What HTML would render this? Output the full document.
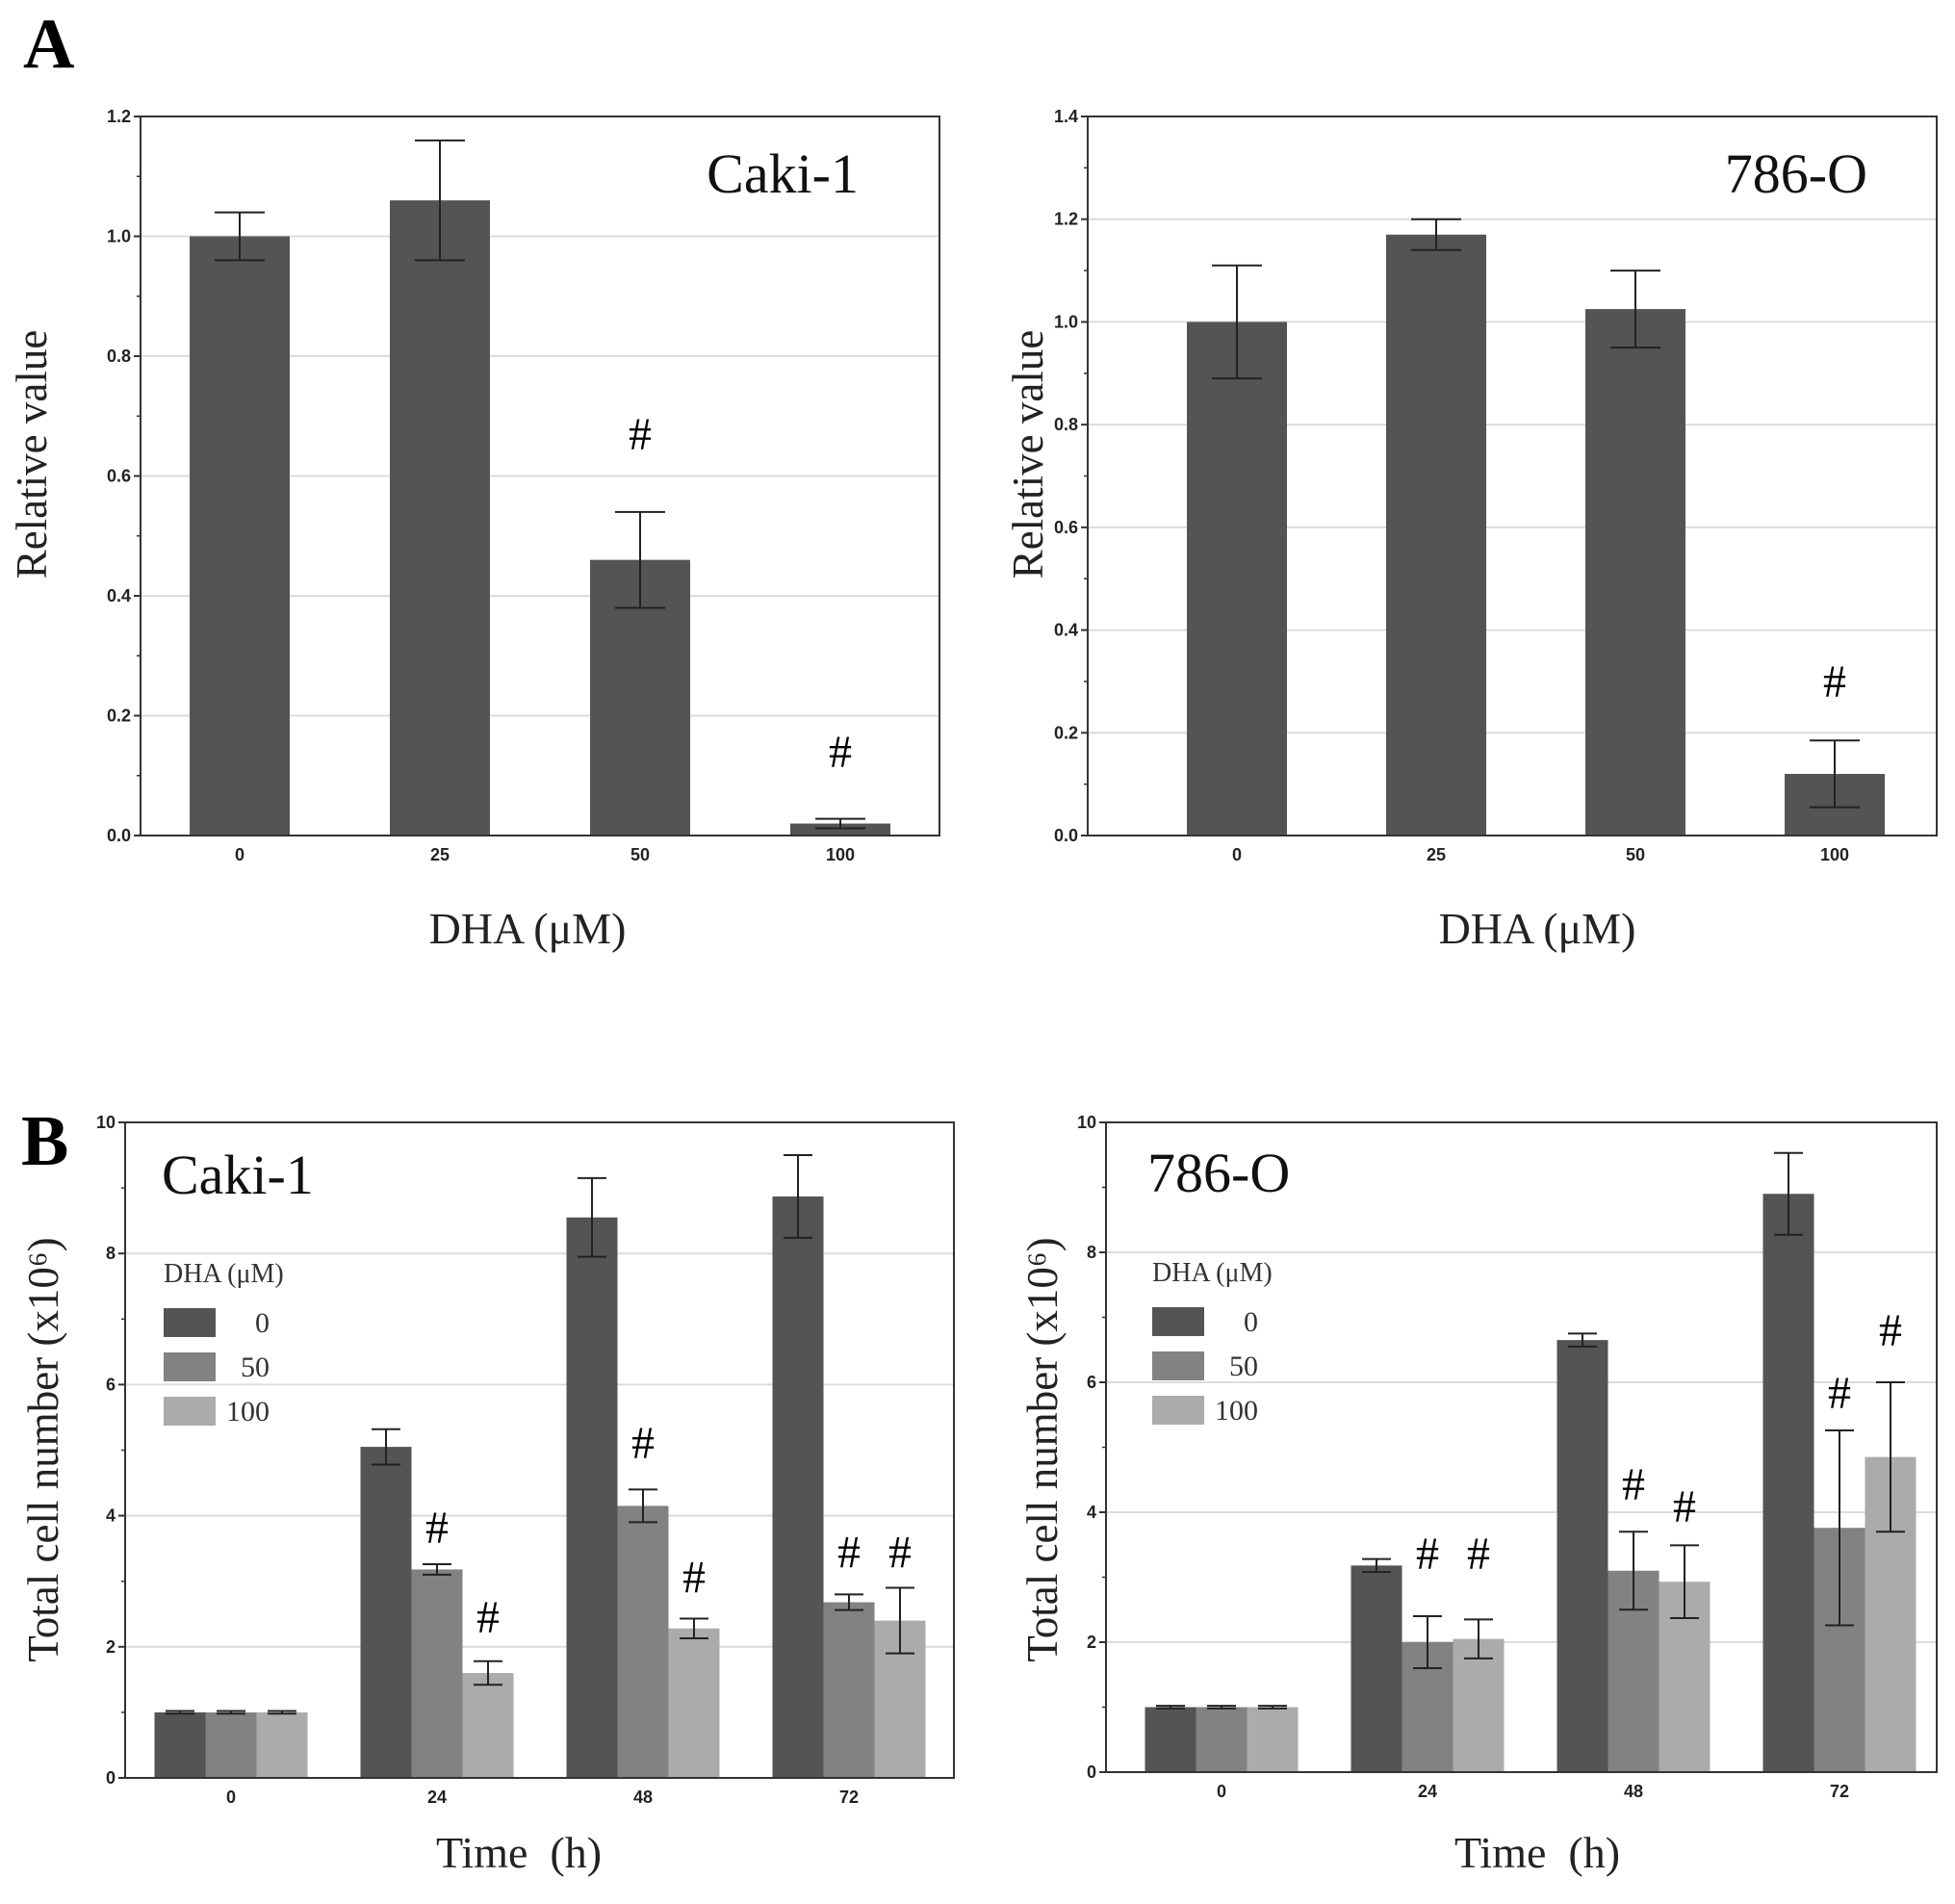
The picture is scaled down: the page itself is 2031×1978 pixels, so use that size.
<!DOCTYPE html>
<html><head><meta charset="utf-8"><style>
html,body{margin:0;padding:0;background:#fff}
svg{display:block}
text{font-family:"Liberation Serif",serif}
.tick{font-family:"Liberation Sans",sans-serif;font-weight:bold;font-size:18px;fill:#222}
</style></head><body>
<svg id="fig" width="2031" height="1978" viewBox="0 0 2031 1978" xmlns="http://www.w3.org/2000/svg">
<text x="24" y="70" font-size="74" font-weight="bold">A</text>
<text x="22" y="1210" font-size="74" font-weight="bold">B</text>
</svg>
<script>
// Panel A data
const aCategories = ["0","25","50","100"];
const aCakiValues = [1.0, 1.06, 0.46, 0.02];
const aCakiErrors = [0.04, 0.1, 0.08, 0.008];
const aCakiHash = [null, null, 0.67, 0.14];
const aCakiTicks = ["0.0","0.2","0.4","0.6","0.8","1.0","1.2"];
const a786Values = [1.0, 1.17, 1.025, 0.12];
const a786Errors = [0.11, 0.03, 0.075, 0.065];
const a786Hash = [null, null, null, 0.3];
const a786Ticks = ["0.0","0.2","0.4","0.6","0.8","1.0","1.2","1.4"];
// Panel B data
const bCategories = ["0","24","48","72"];
const bSeries = ["0","50","100"];
const bTicks = ["0","2","4","6","8","10"];
const bCaki0 = [1, 5.05, 8.55, 8.87];
const bCaki50 = [1, 3.18, 4.15, 2.68];
const bCaki100 = [1, 1.6, 2.28, 2.4];
const bCakiErr0 = [0.02, 0.27, 0.6, 0.63];
const bCakiErr50 = [0.02, 0.08, 0.25, 0.12];
const bCakiErr100 = [0.02, 0.18, 0.15, 0.5];
const bCakiHash50 = [null, 3.82, 5.11, 3.44];
const bCakiHash100 = [null, 2.45, 3.06, 3.44];
const b7860 = [1, 3.18, 6.65, 8.9];
const b78650 = [1, 2.0, 3.1, 3.76];
const b786100 = [1, 2.05, 2.93, 4.85];
const b786Err0 = [0.02, 0.1, 0.1, 0.63];
const b786Err50 = [0.02, 0.4, 0.6, 1.5];
const b786Err100 = [0.02, 0.3, 0.56, 1.15];
const b786Hash50 = [null, 3.36, 4.43, 5.84];
const b786Hash100 = [null, 3.36, 4.09, 6.8];

const svg = document.getElementById('fig');
const NS = "http://www.w3.org/2000/svg";
function mk(tag, attrs, parent, txt){
  const e = document.createElementNS(NS, tag);
  for (const k in attrs) e.setAttribute(k, attrs[k]);
  if (txt !== undefined) e.textContent = txt;
  (parent||svg).appendChild(e);
  return e;
}
const colors = ["#545454","#828282","#ababab"];

function chart(o){
  const g = mk('g', {});
  
  
  const y = v => o.y1 - (v / o.ymax) * (o.y1 - o.y0);
  const cx = i => o.x0 + o.off + o.step * i;
  o.ticks.forEach((t, i) => {
    const v = parseFloat(t);
    const yy = y(v);
    if (v > 0 && v < o.ymax) {
      const gl = mk('line', {x1:o.x0, x2:o.x1, y1:yy, y2:yy, stroke:"#dcdcdc", "stroke-width":2}, g);
      
      
    }
    mk('line', {x1:o.x0-7, x2:o.x0, y1:yy, y2:yy, stroke:"#333", "stroke-width":2}, g);
    const tl = mk('text', {x:o.x0-10, y:yy+6, "text-anchor":"end", class:"tick"}, g, t);
    
    
    if (i < o.ticks.length - 1) {
      const ym = y((v + parseFloat(o.ticks[i+1])) / 2);
      mk('line', {x1:o.x0-4, x2:o.x0, y1:ym, y2:ym, stroke:"#333", "stroke-width":1.5}, g);
    }
  });
  const ns = o.series.length;
  const bw = o.bw;
  o.cats.forEach((c, i) => {
    for (let s = 0; s < ns; s++) {
      const v = o.series[s][i];
      const bx = cx(i) + (s - (ns - 1) / 2) * bw - bw / 2;
      const r = mk('rect', {x:bx, y:y(v), width:bw, height:o.y1 - y(v), fill:colors[ns === 1 ? 0 : s]}, g);
      
      
      const e = o.errors[s][i];
      const mx = bx + bw / 2, hw = ns === 1 ? 26 : 15;
      const eb = mk('path', {d:`M${mx-hw},${y(v+e)}H${mx+hw}M${mx},${y(v+e)}V${y(v-e)}M${mx-hw},${y(v-e)}H${mx+hw}`, stroke:"#222", "stroke-width":2, fill:"none"}, g);
      
      
      const h = o.hash[s][i];
      if (h !== null) {
        const ht = mk('text', {x:mx, y:y(h)+16, "text-anchor":"middle", "font-size":48}, g, "#");
        
        
      }
    }
    const xl = mk('text', {x:cx(i), y:o.y1+26, "text-anchor":"middle", class:"tick"}, g, c);
    
    
  });
  const box = mk('rect', {x:o.x0, y:o.y0, width:o.x1-o.x0, height:o.y1-o.y0, fill:"none", stroke:"#333", "stroke-width":2}, g);
  
  
  const xt = mk('text', {x:o.xtx, y:o.xty, "text-anchor":"middle", "font-size":46, fill:"#222"}, g, o.xtitle);
  
  
  const yt = mk('text', {x:0, y:0, "text-anchor":"middle", "font-size":45, fill:"#222", transform:`translate(${o.ytx},${o.ytc}) rotate(-90)`}, g, o.ytitle);
  
  
  const lb = mk('text', {x:o.lx, y:o.ly, "text-anchor":o.la, "font-size":58, fill:"#111"}, g, o.label);
  
  
  if (o.legend) {
    const lg = mk('g', {}, g);
    
    
    mk('text', {x:o.legend.x, y:o.legend.y, "font-size":28, fill:"#333"}, lg, "DHA (μM)");
    bSeries.forEach((s, k) => {
      const sy = o.legend.y + 27 + k * 46;
      const sw = mk('rect', {x:o.legend.x, y:sy, width:54, height:30, fill:colors[k]}, lg);
      
      
      const lt = mk('text', {x:o.legend.x + 110, y:sy + 25, "text-anchor":"end", "font-size":30, fill:"#333"}, lg, s);
      
      
    });
  }
}

chart({name:"chart-a-caki1", x0:146, x1:976, y0:121, y1:868, ymax:1.2, ticks:aCakiTicks, cats:aCategories,
  off:103, step:208,
  series:[aCakiValues], errors:[aCakiErrors], hash:[aCakiHash], bw:104,
  xtitle:"DHA (μM)", xtx:548, xty:980, ytitle:"Relative value", ytx:48, ytc:472, label:"Caki-1", lx:892, ly:200, la:"end"});
chart({name:"chart-a-786o", x0:1130, x1:2012, y0:121, y1:868, ymax:1.4, ticks:a786Ticks, cats:aCategories,
  off:155, step:207,
  series:[a786Values], errors:[a786Errors], hash:[a786Hash], bw:104,
  xtitle:"DHA (μM)", xtx:1597, xty:980, ytitle:"Relative value", ytx:1083, ytc:472, label:"786-O", lx:1940, ly:200, la:"end"});
chart({name:"chart-b-caki1", x0:130, x1:991, y0:1166, y1:1847, ymax:10, ticks:bTicks, cats:bCategories,
  off:110, step:214,
  series:[bCaki0,bCaki50,bCaki100], errors:[bCakiErr0,bCakiErr50,bCakiErr100], hash:[[null,null,null,null],bCakiHash50,bCakiHash100], bw:53,
  xtitle:"Time\u00a0\u00a0(h)", xtx:539, xty:1940, ytitle:"Total cell number (x10⁶)", ytx:60, ytc:1506, label:"Caki-1", lx:168, ly:1240, la:"start",
  legend:{x:170, y:1332}});
chart({name:"chart-b-786o", x0:1149, x1:2012, y0:1166, y1:1841, ymax:10, ticks:bTicks, cats:bCategories,
  off:120, step:214,
  series:[b7860,b78650,b786100], errors:[b786Err0,b786Err50,b786Err100], hash:[[null,null,null,null],b786Hash50,b786Hash100], bw:53,
  xtitle:"Time\u00a0\u00a0(h)", xtx:1597, xty:1940, ytitle:"Total cell number (x10⁶)", ytx:1098, ytc:1506, label:"786-O", lx:1192, ly:1238, la:"start",
  legend:{x:1197, y:1331}});
</script>
</body></html>
